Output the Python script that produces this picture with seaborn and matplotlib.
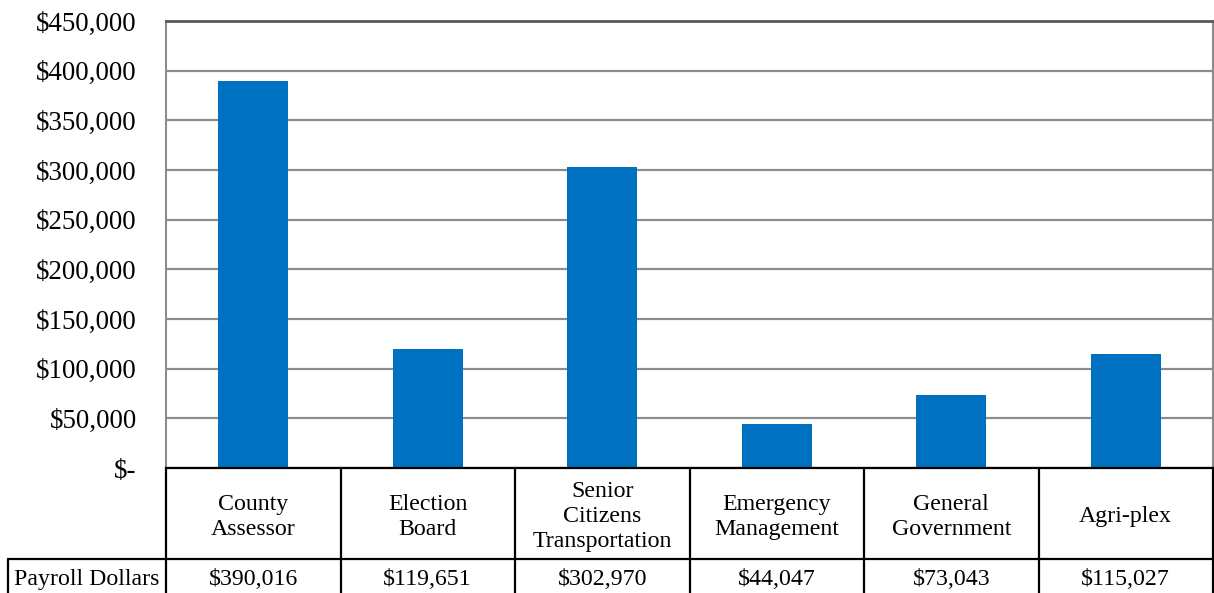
import matplotlib
matplotlib.use("Agg")
import matplotlib.pyplot as plt
import seaborn as sns
import pandas as pd
from matplotlib.lines import Line2D

categories = ["County\nAssessor", "Election\nBoard", "Senior\nCitizens\nTransportation",
              "Emergency\nManagement", "General\nGovernment", "Agri-plex"]
payroll = [390016, 119651, 302970, 44047, 73043, 115027]
series_name = "Payroll Dollars"
yticks = [0, 50000, 100000, 150000, 200000, 250000, 300000, 350000, 400000, 450000]

sns.set_theme(style="white")
plt.rcParams['font.family'] = ['Liberation Serif', 'DejaVu Serif']

W, H = 1214, 593
fig = plt.figure(figsize=(W / 100, H / 100), dpi=100)
L, R, T, B = 166, 1213, 21, 468
ax = fig.add_axes([L / W, (H - B) / H, (R - L) / W, (B - T) / H])

df = pd.DataFrame({"cat": categories, "val": payroll})
sns.barplot(data=df, x="cat", y="val", color="#0070C0", saturation=1, width=0.4, ax=ax,
            linewidth=0)

ax.set_xlim(-0.5, len(categories) - 0.5)
ax.set_ylim(0, 450000)
ax.set_yticks(yticks)
ax.set_yticklabels(["$-" if v == 0 else "${:,.0f}".format(v) for v in yticks], fontsize=19.4)
ax.tick_params(axis="y", length=0, pad=21, colors="black")
ax.set_xticks([])
ax.set_xlabel("")
ax.set_ylabel("")
ax.yaxis.grid(True, color="#8c8c8c", linewidth=1.6)
ax.set_axisbelow(True)
for s in ["left", "right"]:
    ax.spines[s].set_color("#8c8c8c")
    ax.spines[s].set_linewidth(1.5)
ax.spines["top"].set_color("#595959")
ax.spines["top"].set_linewidth(2)
ax.spines["bottom"].set_color("black")
ax.spines["bottom"].set_linewidth(1.6)

# data table below the plot
tr = ax.get_xaxis_transform()
h_px = B - T
y_row = (B - 559) / h_px
y_bot = (B - H) / h_px
x_left = (8 - L) / (R - L) * len(categories) - 0.5
n = len(categories)
lw = 1.6
for i in range(n + 1):
    xb = i - 0.5
    ax.add_line(Line2D([xb, xb], [0, y_bot - 0.05], transform=tr, color="black",
                       linewidth=lw, clip_on=False))
ax.add_line(Line2D([x_left, n - 0.5], [y_row, y_row], transform=tr, color="black",
                   linewidth=lw, clip_on=False))
ax.add_line(Line2D([x_left, x_left], [y_row, y_bot - 0.05], transform=tr, color="black",
                   linewidth=lw, clip_on=False))

fs = 17.2
for i, (c, v) in enumerate(zip(categories, payroll)):
    ax.text(i, y_row / 2 - 0.007, c, transform=tr, ha="center", va="center", fontsize=fs,
            linespacing=1.25, color="black")
    ax.text(i, (y_row + y_bot) / 2 - 0.008, "${:,.0f}".format(v), transform=tr, ha="center",
            va="center", fontsize=fs, color="black")
ax.text((x_left - 0.5) / 2, (y_row + y_bot) / 2 - 0.008, series_name, transform=tr,
        ha="center", va="center", fontsize=fs, color="black")

fig.savefig("out.png", dpi=100)
